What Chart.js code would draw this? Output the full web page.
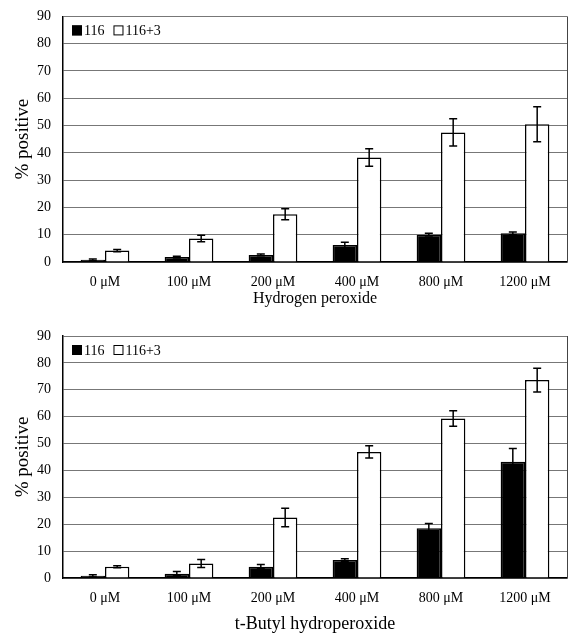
<!DOCTYPE html>
<html>
<head>
<meta charset="utf-8">
<script src="https://cdn.jsdelivr.net/npm/chart.js@4/dist/chart.umd.min.js"></script>
<style>
  body { margin: 0; background: #fff; overflow: hidden; }
  .box { position: absolute; left: 0; width: 572px; }
</style>
</head>
<body>
<div class="box" style="top:-4px;height:312px"><canvas id="top"></canvas></div>
<div class="box" style="top:308px;height:327px"><canvas id="bottom"></canvas></div>
<script>
const categories = ["0 \u03bcM", "100 \u03bcM", "200 \u03bcM", "400 \u03bcM", "800 \u03bcM", "1200 \u03bcM"];
const seriesNames = ["116", "116+3"];

// hydrogen peroxide
const h2o2_116 = [0.8, 1.8, 2.6, 6.2, 10.0, 10.5];
const h2o2_116_err = [0.3, 0.3, 0.3, 1.0, 0.5, 0.5];
const h2o2_1163 = [4.2, 8.6, 17.5, 38.3, 47.5, 50.5];
const h2o2_1163_err = [0.4, 1.2, 2.0, 3.2, 5.0, 6.4];

// t-butyl hydroperoxide
const tbhp_116 = [0.8, 1.6, 4.2, 6.7, 18.5, 43.2];
const tbhp_116_err = [0.4, 0.8, 0.8, 0.5, 1.8, 5.0];
const tbhp_1163 = [4.2, 5.4, 22.5, 46.9, 59.3, 73.6];
const tbhp_1163_err = [0.4, 1.5, 3.4, 2.3, 2.9, 4.4];

const yMax = 90;
const yStep = 10;
const serif = "'Liberation Serif', 'Times New Roman', serif";

const errorBars = {
  id: "errorBars",
  afterDatasetsDraw(chart) {
    const ctx = chart.ctx;
    const y = chart.scales.y;
    const a = chart.chartArea;
    ctx.save();
    ctx.strokeStyle = "#000";
    ctx.lineWidth = 1.5;
    chart.data.datasets.forEach((ds, i) => {
      chart.getDatasetMeta(i).data.forEach((bar, j) => {
        const v = ds.data[j], e = ds.errors[j];
        const y1 = y.getPixelForValue(v + e), y2 = y.getPixelForValue(v - e);
        ctx.beginPath();
        ctx.moveTo(bar.x, y1); ctx.lineTo(bar.x, y2);
        ctx.moveTo(bar.x - 4, y1); ctx.lineTo(bar.x + 4, y1);
        ctx.moveTo(bar.x - 4, y2); ctx.lineTo(bar.x + 4, y2);
        ctx.stroke();
      });
    });
    // right frame line
    ctx.strokeStyle = "#444";
    ctx.lineWidth = 1;
    ctx.beginPath();
    ctx.moveTo(a.right + 0.5, a.top); ctx.lineTo(a.right + 0.5, a.bottom);
    ctx.stroke();

    // legend inside the plot, top left
    ctx.font = "14px " + serif;
    ctx.textBaseline = "middle";
    let lx = a.left + 9;
    const ly = a.top + 14;
    chart.data.datasets.forEach((ds) => {
      ctx.fillStyle = ds.backgroundColor;
      ctx.fillRect(lx, ly - 5, 10, 10);
      ctx.strokeStyle = "#000";
      ctx.lineWidth = 1;
      ctx.strokeRect(lx + 0.5, ly - 4.5, 9, 9);
      ctx.fillStyle = "#000";
      ctx.fillText(ds.label, lx + 12, ly + 1);
      lx += 12 + ctx.measureText(ds.label).width + 9;
    });
    ctx.restore();
  }
};

function makeChart(id, v1, e1, v2, e2, title, pad, xHeight, titleSize) {
  new Chart(document.getElementById(id), {
    type: "bar",
    data: {
      labels: categories,
      datasets: [
        { label: seriesNames[0], data: v1, errors: e1, backgroundColor: "#000", borderColor: "#000", borderWidth: 1.5 },
        { label: seriesNames[1], data: v2, errors: e2, backgroundColor: "#fff", borderColor: "#000", borderWidth: 1.5 }
      ]
    },
    options: {
      responsive: true,
      maintainAspectRatio: false,
      animation: false,
      layout: { padding: { top: pad, right: 5, left: 12, bottom: 0 } },
      datasets: { bar: { categoryPercentage: 0.58, barPercentage: 1 } },
      plugins: {
        legend: { display: false },
        tooltip: { enabled: false }
      },
      scales: {
        x: {
          grid: { display: false, drawTicks: false },
          border: { color: "#000", width: 1.5 },
          ticks: { color: "#000", padding: 12, font: { family: serif, size: 14 } },
          title: { display: true, text: title, color: "#000", padding: 0, font: { family: serif, size: titleSize } },
          afterFit(s) { s.height = xHeight; }
        },
        y: {
          min: 0, max: yMax,
          ticks: { stepSize: yStep, color: "#000", padding: 12, font: { family: serif, size: 14 } },
          grid: { color: "#777", lineWidth: 1, drawTicks: false },
          border: { color: "#000", width: 1.5 },
          title: { display: true, text: "% positive", color: "#000", padding: 0, font: { family: serif, size: 19 } },
          afterFit(s) { s.width = 51; }
        }
      }
    },
    plugins: [errorBars]
  });
}

makeChart("top", h2o2_116, h2o2_116_err, h2o2_1163, h2o2_1163_err, "Hydrogen peroxide", 12, 46, 16);
makeChart("bottom", tbhp_116, tbhp_116_err, tbhp_1163, tbhp_1163_err, "t-Butyl hydroperoxide", 28, 57, 18);
</script>
</body>
</html>
